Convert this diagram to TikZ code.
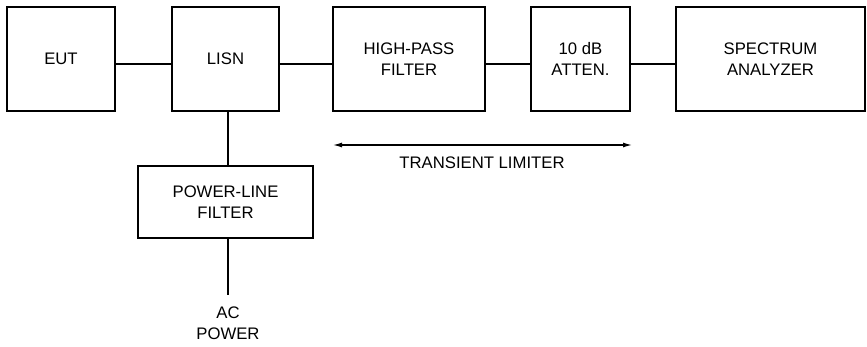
\documentclass[tikz,border=0pt]{standalone}
\usepackage{fontspec}
\setmainfont{Liberation Sans}
\usetikzlibrary{arrows.meta}
\tikzset{
    blk/.style={draw, line width=2pt, minimum height=104pt, inner sep=0pt, align=center, font=\fontsize{16.7}{21}\selectfont},
    wire/.style={line width=2pt},
}

\begin{document}
\begin{tikzpicture}[x=1pt, y=-1pt]
    \useasboundingbox (0,0) rectangle (867,346);
    \node[blk, minimum width=108pt] (eut) at (61,59) {\raisebox{-2pt}{EUT}};
    \node[blk, minimum width=107pt] (lisn) at (225.5,59) {LISN};
    \node[blk, minimum width=152pt] (hpf) at (409,59) {HIGH-PASS\\FILTER};
    \node[blk, minimum width=99pt] (att) at (580.5,59) {10 dB\\ATTEN.};
    \node[blk, minimum width=189pt] (sa) at (770.5,59) {SPECTRUM\\ANALYZER};
    \node[blk, minimum width=175pt, minimum height=72pt] (plf) at (225.5,202) {POWER-LINE\\FILTER};
    \node[align=center, font=\fontsize{16.7}{20.5}\selectfont] (ac) at (228,323) {AC\\POWER};
    \coordinate (row) at (0,64);
    \coordinate (acin) at (228,295);
    \coordinate (tl1) at (333,145);
    \coordinate (tl2) at (632,145);
    \draw[wire] (eut.east |- row) -- (lisn.west |- row);
    \draw[wire] (lisn.east |- row) -- (hpf.west |- row);
    \draw[wire] (hpf.east |- row) -- (att.west |- row);
    \draw[wire] (att.east |- row) -- (sa.west |- row);
    \draw[wire] (lisn.south -| acin) -- (plf.north -| acin);
    \draw[wire] (plf.south -| acin) -- (acin);
    \draw[line width=1.2pt, {Latex[length=9pt,width=5pt]}-{Latex[length=9pt,width=5pt]}] (tl1) -- (tl2);
    \node[font=\fontsize{16.7}{20}\selectfont] (lim) at (482,163) {TRANSIENT LIMITER};
\end{tikzpicture}
\end{document}
